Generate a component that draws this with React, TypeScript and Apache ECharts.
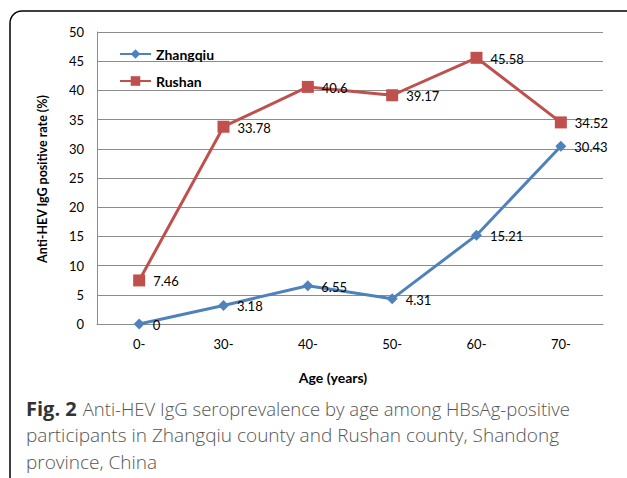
import React, { useEffect, useRef } from "react";
import * as echarts from "echarts";

const categories = ["0-", "30-", "40-", "50-", "60-", "70-"];
const zhangqiu = [0, 3.18, 6.55, 4.31, 15.21, 30.43];
const rushan = [7.46, 33.78, 40.6, 39.17, 45.58, 34.52];
const yTicks = { min: 0, max: 50, interval: 5 };

export default function App() {
  const ref = useRef<HTMLDivElement>(null);
  useEffect(() => {
    const chart = echarts.init(ref.current!, null, { renderer: "svg" });
    const font = "Lato, 'Open Sans', sans-serif";
    const capFont = "'Open Sans', sans-serif";
    const labelCfg = {
      show: true,
      position: "right",
      distance: 8,
      offset: [0, 1],
      color: "#000",
      fontSize: 13,
      fontFamily: font,
    };
    chart.setOption({
      animation: false,
      backgroundColor: "#fff",
      textStyle: { fontFamily: font },
      grid: { left: 97, right: 24, top: 32, bottom: 154, containLabel: false },
      legend: {
        orient: "vertical",
        left: 114,
        top: 42,
        itemWidth: 31,
        itemHeight: 12,
        itemGap: 13,
        textStyle: {
          fontWeight: "bold",
          fontSize: 14,
          color: "#000",
          fontFamily: font,
        },
        data: ["Zhangqiu", "Rushan"],
      },
      xAxis: {
        type: "category",
        data: categories,
        boundaryGap: true,
        axisLine: { lineStyle: { color: "#8c8c8c", width: 1 } },
        axisTick: { show: false },
        axisLabel: { color: "#000", fontSize: 13, margin: 13, fontFamily: font },
      },
      yAxis: {
        type: "value",
        min: yTicks.min,
        max: yTicks.max,
        interval: yTicks.interval,
        axisLine: { show: true, lineStyle: { color: "#8c8c8c", width: 1 } },
        axisTick: { show: false },
        axisLabel: { color: "#000", fontSize: 13, margin: 13, fontFamily: font },
        splitLine: { lineStyle: { color: "#8c8c8c", width: 1 } },
      },
      series: [
        {
          name: "Zhangqiu",
          type: "line",
          data: zhangqiu,
          symbol: "diamond",
          symbolSize: 11,
          itemStyle: { color: "#4F81BD" },
          lineStyle: { color: "#4F81BD", width: 3 },
          label: labelCfg,
        },
        {
          name: "Rushan",
          type: "line",
          data: rushan,
          symbol: "rect",
          symbolSize: 12,
          itemStyle: { color: "#C0504D" },
          lineStyle: { color: "#C0504D", width: 3 },
          label: labelCfg,
        },
      ],
      graphic: [
        {
          type: "rect",
          shape: { x: 10, y: 11, width: 640, height: 500, r: 12 },
          style: { fill: "none", stroke: "#000", lineWidth: 1.5 },
          z: 100,
        },
        {
          type: "text",
          x: 333,
          y: 377,
          style: {
            text: "Age (years)",
            fontWeight: "bold",
            fontSize: 14,
            fontFamily: font,
            fill: "#000",
            align: "center",
            verticalAlign: "middle",
          },
        },
        {
          type: "text",
          x: 42,
          y: 179,
          rotation: Math.PI / 2,
          style: {
            text: "Anti-HEV IgG positive rate (%)",
            fontWeight: "bold",
            fontSize: 12.5,
            fontFamily: font,
            fill: "#000",
            align: "center",
            verticalAlign: "middle",
          },
        },
        {
          type: "text",
          x: 26,
          y: 408,
          style: {
            text: "{b|Fig. 2}{n|Anti-HEV IgG seroprevalence by age among HBsAg-positive}",
            verticalAlign: "middle",
            rich: {
              b: {
                fontWeight: "bold",
                fontSize: 20,
                fill: "#333",
                fontFamily: capFont,
                padding: [0, 6, 0, 0],
              },
              n: { fontSize: 18.5, fill: "#555", fontFamily: capFont, fontWeight: 300 },
            },
          },
        },
        {
          type: "text",
          x: 26,
          y: 435,
          style: {
            text: "participants in Zhangqiu county and Rushan county, Shandong",
            fontSize: 19,
            fill: "#555",
            fontFamily: capFont,
            fontWeight: 300,
            verticalAlign: "middle",
          },
        },
        {
          type: "text",
          x: 26,
          y: 462,
          style: {
            text: "province, China",
            fontSize: 19,
            fill: "#555",
            fontFamily: capFont,
            fontWeight: 300,
            verticalAlign: "middle",
          },
        },
      ],
    });
    return () => chart.dispose();
  }, []);
  return (
    <div
      ref={ref}
      style={{ position: "fixed", left: 0, top: 0, width: 627, height: 478 }}
    />
  );
}
